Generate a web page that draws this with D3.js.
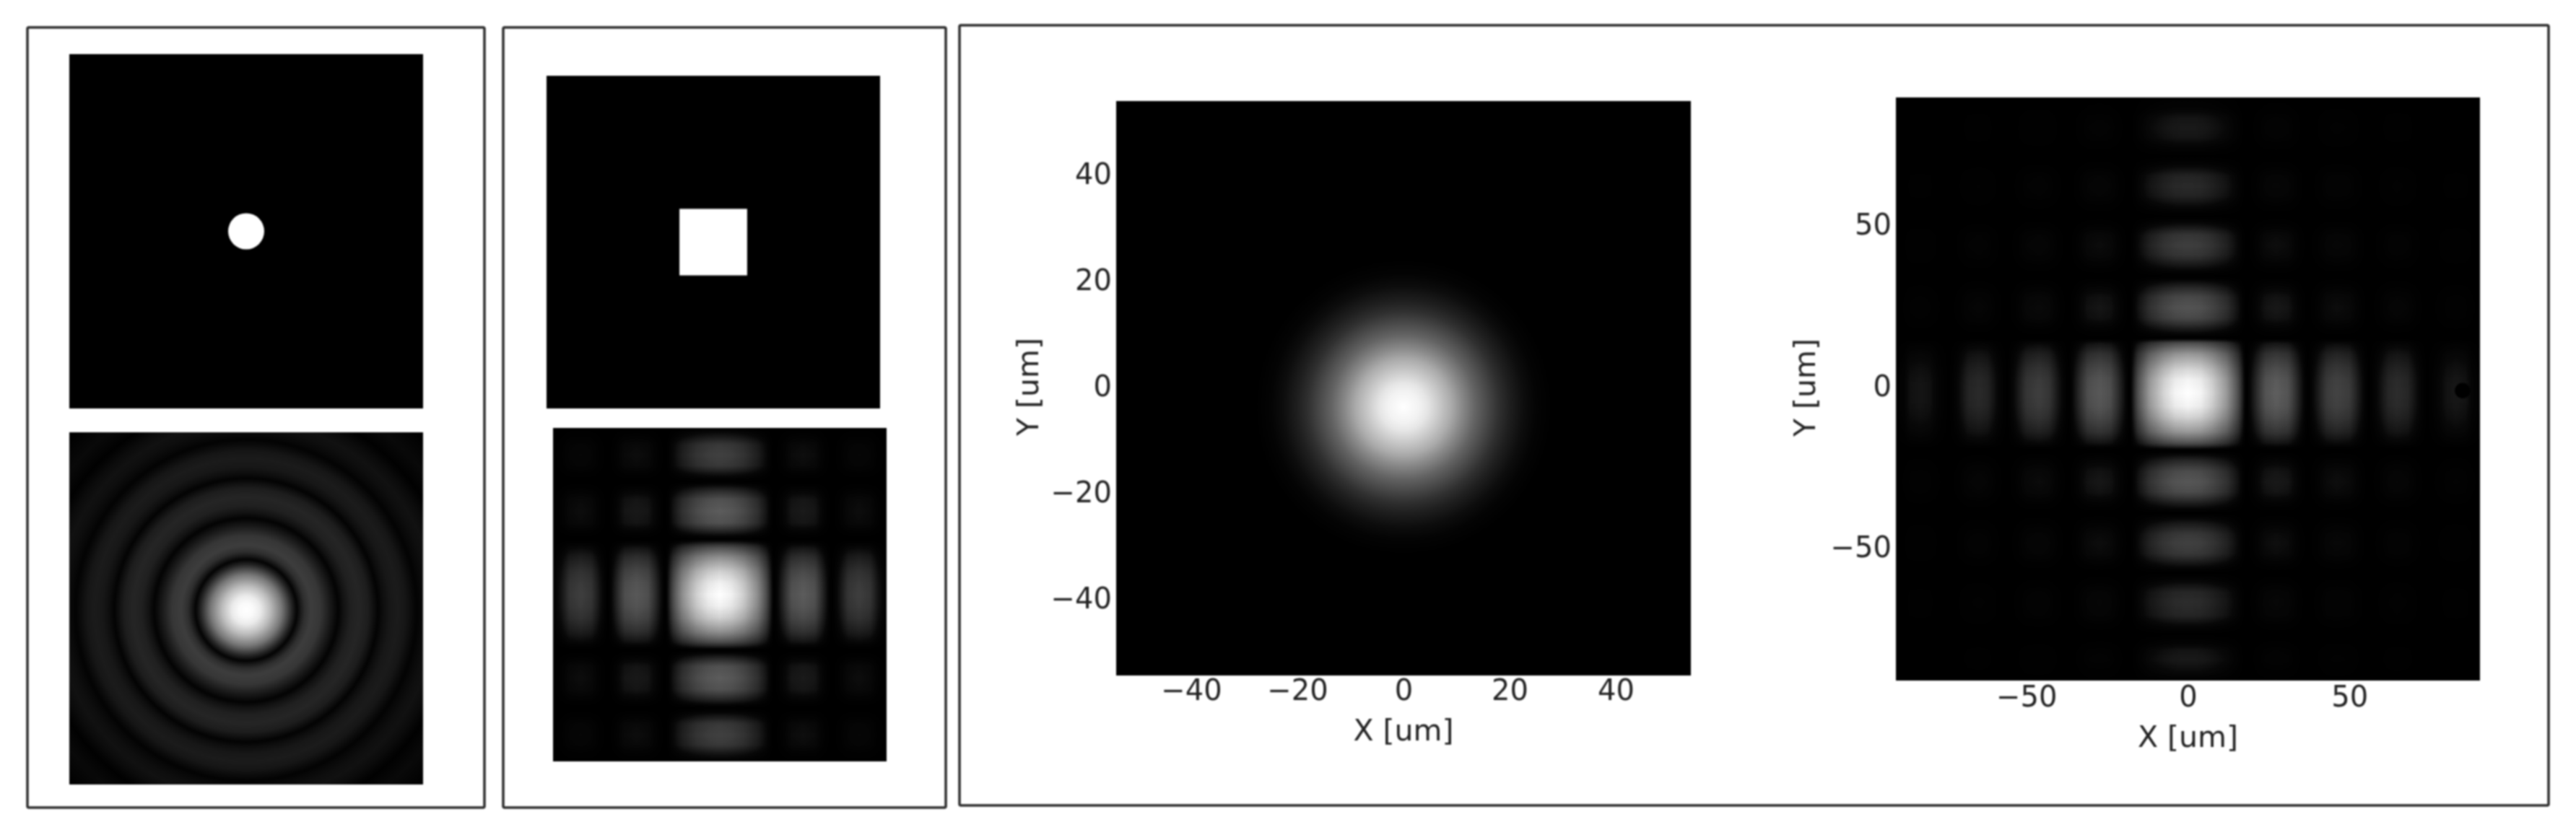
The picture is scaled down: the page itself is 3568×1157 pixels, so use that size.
<!DOCTYPE html>
<html><head><meta charset="utf-8">
<script src="https://cdn.jsdelivr.net/npm/d3@7"></script>
<style>
html,body{margin:0;padding:0;background:#fff;overflow:hidden}
svg{display:block;filter:blur(0.9px)}
text{font-family:"DejaVu Sans";fill:#222}
</style></head><body>
<svg id="c" width="3568" height="1157"></svg>
<script>
// Panel 1: circular aperture and its ring pattern (unitless, half-width = 1)
const dotCentre = [0, 0];
const dotRadius = [0.102];
const ringRadius = [0, 0.04, 0.08, 0.135, 0.2, 0.257, 0.286, 0.305, 0.33, 0.367, 0.42, 0.48, 0.52, 0.55, 0.59, 0.64, 0.69, 0.725, 0.745, 0.775, 0.81, 0.857, 0.9, 0.94, 0.965, 0.99, 1.03, 1.07, 1.12, 1.16, 1.18, 1.21, 1.27, 1.36, 1.385, 1.45];
const ringLevel  = [1, 0.98, 0.92, 0.74, 0.47, 0.15, 0.01, 0.09, 0.18, 0.24, 0.21, 0.09, 0.01, 0.07, 0.125, 0.145, 0.115, 0.05, 0.01, 0.055, 0.09, 0.105, 0.085, 0.04, 0.01, 0.03, 0.055, 0.065, 0.045, 0.015, 0.005, 0.015, 0.035, 0.012, 0.005, 0.012];

// Panel 2: square aperture and its cross pattern (unitless, half-width = 1)
const squareX = [-0.203, 0.203];
const squareY = [-0.2, 0.2];
const crossX = [-1, -0.95, -0.9, -0.835, -0.77, -0.72, -0.67, -0.62, -0.57, -0.5, -0.43, -0.377, -0.325, -0.28, -0.225, -0.14, -0.07, 0, 0.07, 0.14, 0.225, 0.28, 0.325, 0.377, 0.43, 0.5, 0.57, 0.62, 0.67, 0.72, 0.77, 0.835, 0.9, 0.95, 1];
const crossXLevel = [0.03, 0.11, 0.22, 0.25, 0.22, 0.11, 0.01, 0.16, 0.31, 0.35, 0.31, 0.16, 0.01, 0.3, 0.56, 0.82, 0.95, 1, 0.95, 0.82, 0.56, 0.3, 0.01, 0.16, 0.32, 0.36, 0.32, 0.16, 0.01, 0.11, 0.22, 0.25, 0.22, 0.11, 0.03];
const crossY = [-1, -0.95, -0.9, -0.84, -0.775, -0.73, -0.68, -0.63, -0.57, -0.5, -0.43, -0.38, -0.333, -0.285, -0.225, -0.14, -0.07, 0, 0.07, 0.14, 0.225, 0.285, 0.333, 0.38, 0.43, 0.5, 0.57, 0.63, 0.68, 0.73, 0.775, 0.84, 0.9, 0.95, 1];
const crossYLevel = [0.04, 0.12, 0.23, 0.26, 0.23, 0.12, 0.01, 0.16, 0.32, 0.36, 0.32, 0.16, 0.01, 0.3, 0.56, 0.82, 0.95, 1, 0.95, 0.82, 0.56, 0.3, 0.01, 0.16, 0.32, 0.36, 0.32, 0.16, 0.01, 0.12, 0.23, 0.26, 0.23, 0.12, 0.04];

// Panel 3: round beam, micrometres
const beamCentre = [0, -3.5];
const beamRadius = [0, 3, 4.5, 6.5, 9, 11, 13.6, 16, 18, 20, 22.7, 25, 28];
const beamLevel  = [1, 0.95, 0.9, 0.8, 0.67, 0.54, 0.39, 0.28, 0.19, 0.12, 0.05, 0.015, 0];
const beamXTicks = [-40, -20, 0, 20, 40];
const beamYTicks = [-40, -20, 0, 20, 40];

// Panel 4: square beam, micrometres
const fringeX = [
  -90.4, -88, -86, -83, -80, -77, -74,
  -71, -68, -64.7, -62, -59, -56,
  -53, -50, -46, -43, -40, -37,
  -34, -31, -27.3, -24, -21, -18,
  -15.6, -12, -7.4, -4, 0, 4, 7.4, 12, 15.6,
  18, 21, 24, 27.3, 31, 34, 37,
  40, 43, 46, 50, 53, 56,
  59, 62, 64.7, 68, 71, 74,
  77, 80, 83, 86, 88, 90.4];
const fringeXLevel = [
  0.03, 0.05, 0.1, 0.115, 0.1, 0.05, 0.01,
  0.08, 0.16, 0.18, 0.16, 0.08, 0.01,
  0.11, 0.22, 0.25, 0.22, 0.11, 0.01,
  0.16, 0.31, 0.35, 0.31, 0.16, 0.01,
  0.3, 0.6, 0.84, 0.96, 1, 0.96, 0.84, 0.6, 0.3,
  0.01, 0.17, 0.33, 0.37, 0.33, 0.17, 0.01,
  0.12, 0.24, 0.27, 0.24, 0.12, 0.01,
  0.085, 0.17, 0.19, 0.17, 0.085, 0.01,
  0.055, 0.105, 0.12, 0.105, 0.06, 0.03];
const fringeY = [
  -90.4, -88, -84, -81, -79, -76,
  -73, -70, -66, -63, -60, -57,
  -54, -51, -47.8, -45, -41.5, -38.5,
  -35, -32, -28.8, -25.5, -22, -19,
  -16.9, -13.3, -8.7, -5.3, -1.25, 2.8, 6.2, 10.8, 14.3,
  15.75, 19, 22, 25.2, 28.5, 32, 35,
  38, 41.5, 44.6, 47.8, 50.5, 53.5,
  56.5, 60, 62.8, 66, 69, 72,
  75, 78, 81, 84, 87, 90.4];
const fringeYLevel = [
  0.03, 0.08, 0.13, 0.11, 0.06, 0.01,
  0.085, 0.17, 0.19, 0.17, 0.085, 0.01,
  0.12, 0.23, 0.26, 0.23, 0.12, 0.01,
  0.16, 0.3, 0.34, 0.3, 0.16, 0.01,
  0.3, 0.6, 0.84, 0.96, 1, 0.96, 0.84, 0.6, 0.3,
  0.01, 0.15, 0.29, 0.33, 0.29, 0.15, 0.01,
  0.11, 0.22, 0.25, 0.22, 0.11, 0.01,
  0.08, 0.16, 0.18, 0.16, 0.08, 0.01,
  0.06, 0.115, 0.13, 0.115, 0.06, 0.03];
const fringeXTicks = [-50, 0, 50];
const fringeYTicks = [-50, 0, 50];
const spotCentre = [85, -0.5];
const spotRadius = [2.4];

// Display curve of the two cross patterns
const toneIn  = [0, 0.03, 0.05, 0.08, 0.115, 0.2, 0.35, 1];
const toneOut = [0, 0.006, 0.015, 0.035, 0.085, 0.19, 0.35, 1];

const axisTitles = ["X [um]", "Y [um]"];

const svg = d3.select("#c");
const defs = svg.append("defs");
const gray = d3.scaleLinear().domain([0, 1]).range(["#000", "#fff"]);
const tone = d3.scaleLinear().domain(toneIn).range(toneOut);
const toneTable = d3.range(0, 1.0001, 0.01).map(tone).join(" ");
const toneFilter = defs.append("filter").attr("id", "tone").attr("color-interpolation-filters", "sRGB")
  .attr("x", 0).attr("y", 0).attr("width", 1).attr("height", 1);
const tf = toneFilter.append("feComponentTransfer");
for (const f of ["feFuncR", "feFuncG", "feFuncB"]) tf.append(f).attr("type", "table").attr("tableValues", toneTable);
let uid = 0;

function frame(x0, y0, x1, y1) {
  svg.append("rect").attr("x", x0).attr("y", y0).attr("width", x1 - x0).attr("height", y1 - y0)
    .attr("rx", 2).attr("fill", "#fff").attr("stroke", "#2c2c2c").attr("stroke-width", 3.5);
}
function axes(box, dom) {
  return {
    x: d3.scaleLinear().domain(dom).range([box[0], box[2]]),
    y: d3.scaleLinear().domain(dom).range([box[3], box[1]])
  };
}
function stops(grad, offs, levels) {
  grad.selectAll("stop").data(offs).join("stop")
    .attr("offset", d => d)
    .attr("stop-color", (d, i) => gray(levels[i]));
}
function linear(scale, vals, levels, vertical) {
  const id = "g" + (uid++);
  const r = scale.range();
  const g = defs.append("linearGradient").attr("id", id).attr("gradientUnits", "userSpaceOnUse")
    .attr("x1", vertical ? 0 : r[0]).attr("x2", vertical ? 0 : r[1])
    .attr("y1", vertical ? r[0] : 0).attr("y2", vertical ? r[1] : 0);
  const t = d3.scaleLinear().domain(scale.domain()).range([0, 1]);
  stops(g, vals.map(t), levels);
  return id;
}
function panelRect(s, fill, blend) {
  const [x0, x1] = s.x.range(), [y1, y0] = s.y.range();
  const r = s.g.append("rect").attr("x", x0).attr("y", y0).attr("width", x1 - x0).attr("height", y1 - y0).attr("fill", fill);
  if (blend) r.style("mix-blend-mode", "multiply");
  return r;
}
function radialPanel(box, dom, centre, radii, levels) {
  const s = axes(box, dom);
  s.g = svg.append("g").style("isolation", "isolate");
  const id = "g" + (uid++);
  const rMax = d3.max(radii);
  const rPx = Math.abs(s.x(rMax) - s.x(0));
  const g = defs.append("radialGradient").attr("id", id).attr("gradientUnits", "userSpaceOnUse")
    .attr("cx", s.x(centre[0])).attr("cy", s.y(centre[1])).attr("r", rPx);
  const t = d3.scaleLinear().domain([0, rMax]).range([0, 1]);
  stops(g, radii.map(t), levels);
  panelRect(s, `url(#${id})`);
  return s;
}
function crossPanel(box, dom, xv, xl, yv, yl) {
  const s = axes(box, dom);
  s.g = svg.append("g").style("isolation", "isolate").attr("filter", "url(#tone)");
  panelRect(s, `url(#${linear(s.x, xv, xl, false)})`);
  panelRect(s, `url(#${linear(s.y, yv, yl, true)})`, true);
  return s;
}
function blackPanel(box, dom) {
  const s = axes(box, dom);
  s.g = svg.append("g");
  panelRect(s, "#000");
  return s;
}
const fmt = d => d < 0 ? "\u2212" + Math.abs(d) : String(d);
function drawAxes(s, xt, yt, opt) {
  const [x0, x1] = s.x.range(), [y1, y0] = s.y.range();
  const gx = svg.append("g").attr("transform", `translate(0,${y1 + opt.xShift})`)
    .call(d3.axisBottom(s.x).tickValues(xt).tickSize(0).tickPadding(6).tickFormat(fmt));
  const gy = svg.append("g").attr("transform", `translate(${x0},${opt.yShift})`)
    .call(d3.axisLeft(s.y).tickValues(yt).tickSize(0).tickPadding(6).tickFormat(fmt));
  for (const a of [gx, gy]) {
    a.select(".domain").remove();
    a.selectAll("text").attr("font-family", "DejaVu Sans").attr("font-size", 40).attr("fill", "#222");
  }
  svg.append("text").attr("x", (x0 + x1) / 2).attr("y", opt.xTitle).attr("text-anchor", "middle")
    .attr("dominant-baseline", "central").attr("font-size", 41).text(axisTitles[0]);
  svg.append("text").attr("transform", `translate(${opt.yTitle},${(y0 + y1) / 2 - 2}) rotate(-90)`).attr("text-anchor", "middle")
    .attr("dominant-baseline", "central").attr("font-size", 41).text(axisTitles[1]);
}

frame(38, 38, 671, 1119);
frame(697, 38, 1310, 1119);
frame(1329, 35, 3530, 1116);

// Panel 1
const p1a = blackPanel([96, 75, 586, 566], [-1, 1]);
p1a.g.append("ellipse").attr("cx", p1a.x(dotCentre[0])).attr("cy", p1a.y(dotCentre[1]))
  .attr("rx", p1a.x(dotRadius[0]) - p1a.x(0)).attr("ry", p1a.y(0) - p1a.y(dotRadius[0])).attr("fill", "#fff");
radialPanel([96, 599, 586, 1087], [-1, 1], [0, -0.01], ringRadius, ringLevel);

// Panel 2
const p2a = blackPanel([757, 105, 1219, 566], [-1, 1]);
p2a.g.append("rect").attr("x", p2a.x(squareX[0])).attr("y", p2a.y(squareY[1]))
  .attr("width", p2a.x(squareX[1]) - p2a.x(squareX[0])).attr("height", p2a.y(squareY[0]) - p2a.y(squareY[1])).attr("fill", "#fff");
crossPanel([766, 593, 1228, 1055], [-1, 1], crossX, crossXLevel, crossY, crossYLevel);

// Panel 3
const p3 = radialPanel([1546, 140, 2342, 936], [-54.15, 54.15], beamCentre, beamRadius, beamLevel);
drawAxes(p3, beamXTicks, beamYTicks, { xShift: 0, yShift: -2.5, xTitle: 1012, yTitle: 1424 });

// Panel 4
const p4 = crossPanel([2626, 135, 3435, 943], [-90.4, 90.4], fringeX, fringeXLevel, fringeY, fringeYLevel);
svg.append("circle").attr("cx", p4.x(spotCentre[0])).attr("cy", p4.y(spotCentre[1]))
  .attr("r", p4.x(spotRadius[0]) - p4.x(0)).attr("fill", "#000");
drawAxes(p4, fringeXTicks, fringeYTicks, { xShift: 2, yShift: -3.5, xTitle: 1021, yTitle: 2500 });
</script></body></html>
